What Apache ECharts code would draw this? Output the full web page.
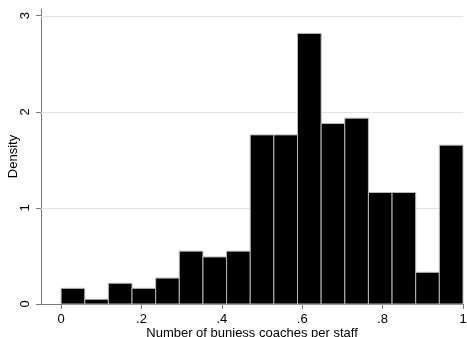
<!DOCTYPE html>
<html>
<head>
<meta charset="utf-8">
<script src="https://cdn.jsdelivr.net/npm/echarts@6/dist/echarts.min.js"></script>
<style>
  html, body { margin: 0; padding: 0; background: #fff; }
  #chart { width: 467px; height: 337px; }
</style>
</head>
<body>
<div id="chart"></div>
<script>
// Histogram of business coaches per staff: 17 equal-width bins on [0, 1]
const binLow = 0;
const binHigh = 1;
const density = [0.163, 0.049, 0.216, 0.163, 0.27, 0.55, 0.49, 0.55, 1.76, 1.76, 2.816, 1.878, 1.934, 1.16, 1.16, 0.33, 1.653];
const xTicks = [0, 0.2, 0.4, 0.6, 0.8, 1];
const xTickLabels = ['0', '.2', '.4', '.6', '.8', '1'];
const yTicks = [0, 1, 2, 3];
const yTickLabels = ['0', '1', '2', '3'];
const gridValues = [1, 2, 3];

const binWidth = (binHigh - binLow) / density.length;
const bins = density.map((d, i) => [binLow + i * binWidth, binLow + (i + 1) * binWidth, d]);

const chart = echarts.init(document.getElementById('chart'), null, { renderer: 'canvas' });
const font = 'Liberation Sans, Arial, Helvetica, sans-serif';
const axisColor = '#7a7a7a';

chart.setOption({
  animation: false,
  grid: { left: 41, right: 4, top: 9, bottom: 33, containLabel: false, outerBoundsMode: 'none' },
  xAxis: {
    type: 'value',
    min: -0.05,
    max: 1.0,
    name: 'Number of buniess coaches per staff',
    nameLocation: 'middle',
    nameGap: 23,
    nameMoveOverlap: false,
    nameTextStyle: { fontFamily: font, fontSize: 13, color: '#000' },
    axisLine: { show: true, onZero: false, lineStyle: { color: axisColor, width: 1 } },
    axisTick: { show: true, length: 5, lineStyle: { color: axisColor }, customValues: xTicks },
    axisLabel: {
      fontFamily: font, fontSize: 13, color: '#000', margin: 9,
      customValues: xTicks,
      formatter: v => {
        const k = xTicks.findIndex(t => Math.abs(t - v) < 1e-9);
        return k >= 0 ? xTickLabels[k] : '';
      }
    },
    splitLine: { show: false }
  },
  yAxis: {
    type: 'value',
    min: 0,
    max: 3.07,
    name: 'Density',
    nameLocation: 'middle',
    nameGap: 21,
    nameRotate: 90,
    nameMoveOverlap: false,
    nameTextStyle: { fontFamily: font, fontSize: 13, color: '#000' },
    axisLine: { show: true, onZero: false, lineStyle: { color: axisColor, width: 1 } },
    axisTick: { show: true, length: 5, lineStyle: { color: axisColor }, customValues: yTicks },
    // tick labels are drawn upright-rotated by the label series below
    axisLabel: { show: false },
    splitLine: { show: false }
  },
  series: [
    {
      // horizontal reference lines behind the bars
      type: 'custom',
      data: gridValues.map(v => [v]),
      encode: { y: 0 },
      z: 1,
      silent: true,
      renderItem: (params, api) => {
        const cs = params.coordSys;
        const y = Math.round(api.coord([0, api.value(0)])[1]) + 0.5;
        return {
          type: 'line',
          shape: { x1: cs.x, y1: y, x2: cs.x + cs.width, y2: y },
          style: { stroke: '#e2e2e2', lineWidth: 1 }
        };
      }
    },
    {
      // rotated y tick labels, placed on the y scale
      type: 'custom',
      data: yTicks.map((v, i) => [v, i]),
      encode: { y: 0 },
      z: 4,
      silent: true,
      clip: false,
      renderItem: (params, api) => {
        const cs = params.coordSys;
        const y = api.coord([0, api.value(0)])[1];
        return {
          type: 'text',
          x: cs.x - 16,
          y: y,
          rotation: Math.PI / 2,
          style: {
            text: yTickLabels[api.value(1)],
            fontFamily: font,
            fontSize: 13,
            fill: '#000',
            align: 'center',
            verticalAlign: 'middle'
          }
        };
      }
    },
    {
      type: 'custom',
      data: bins,
      encode: { x: [0, 1], y: 2 },
      z: 3,
      renderItem: (params, api) => {
        const p0 = api.coord([api.value(0), api.value(2)]);
        const p1 = api.coord([api.value(1), 0]);
        return {
          type: 'rect',
          shape: { x: p0[0], y: p0[1], width: p1[0] - p0[0], height: p1[1] - p0[1] },
          style: { fill: '#000', stroke: '#b8b8b8', lineWidth: 1 }
        };
      }
    }
  ]
});
</script>
</body>
</html>
